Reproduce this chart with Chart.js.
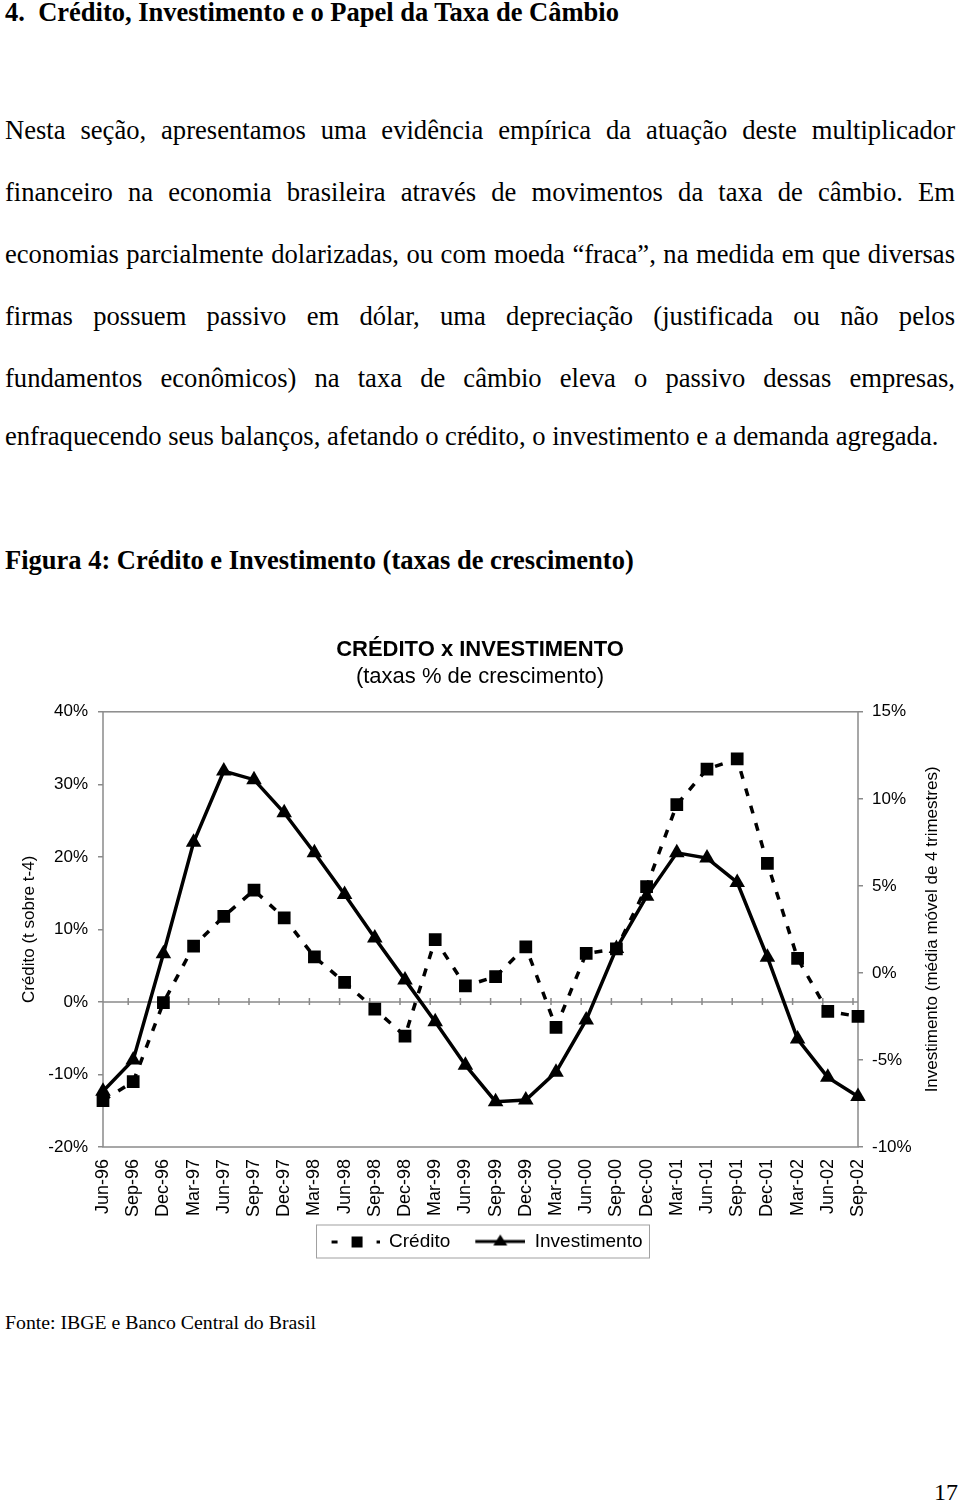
<!DOCTYPE html>
<html>
<head>
<meta charset="utf-8">
<title>Crédito x Investimento</title>
<script src="https://cdn.jsdelivr.net/npm/chart.js"></script>
<style>
    body { margin: 0; width: 960px; height: 1504px; position: relative; overflow: hidden; background: #fff; color: #000;
           font-family: "Liberation Serif", "Times New Roman", serif; }
    .txt { position: absolute; left: 5px; white-space: nowrap; }
    .titulo { top: -3px; font-size: 26.5px; font-weight: bold; line-height: 30px; }
    .par { position: absolute; left: 5px; width: 950px; font-size: 26.6px; line-height: 62px;
           text-align: justify; text-align-last: justify; white-space: nowrap; }
    .ultima { text-align-last: left; }
    .figura { top: 545px; font-size: 26.5px; font-weight: bold; line-height: 30px; }
    .fonte { top: 1309px; font-size: 19.8px; line-height: 26px; }
    .pagina { position: absolute; left: 934px; top: 1478px; font-size: 24px; line-height: 28px; }
    #grafico { position: absolute; left: 0; top: 625px; width: 960px; height: 650px; }
</style>
</head>
<body>

<div class="txt titulo">4.&nbsp; Crédito, Investimento e o Papel da Taxa de Câmbio</div>

<div class="par" style="top:99px">Nesta seção, apresentamos uma evidência empírica da atuação deste multiplicador</div>
<div class="par" style="top:161px">financeiro na economia brasileira através de movimentos da taxa de câmbio. Em</div>
<div class="par" style="top:223px">economias parcialmente dolarizadas, ou com moeda “fraca”, na medida em que diversas</div>
<div class="par" style="top:285px">firmas possuem passivo em dólar, uma depreciação (justificada ou não pelos</div>
<div class="par" style="top:347px">fundamentos econômicos) na taxa de câmbio eleva o passivo dessas empresas,</div>
<div class="par ultima" style="top:405px">enfraquecendo seus balanços, afetando o crédito, o investimento e a demanda agregada.</div>

<div class="txt figura">Figura 4: Crédito e Investimento (taxas de crescimento)</div>

<div id="grafico"><canvas id="cv"></canvas></div>

<div class="txt fonte">Fonte: IBGE e Banco Central do Brasil</div>
<div class="pagina">17</div>

<script>
    var meses = ['Jun-96', 'Sep-96', 'Dec-96', 'Mar-97', 'Jun-97', 'Sep-97', 'Dec-97', 'Mar-98', 'Jun-98',
                 'Sep-98', 'Dec-98', 'Mar-99', 'Jun-99', 'Sep-99', 'Dec-99', 'Mar-00', 'Jun-00', 'Sep-00',
                 'Dec-00', 'Mar-01', 'Jun-01', 'Sep-01', 'Dec-01', 'Mar-02', 'Jun-02', 'Sep-02'];

    // credito: eixo da esquerda (t sobre t-4), em %
    var credito = [-13.6, -11.0, -0.1, 7.7, 11.8, 15.4, 11.6, 6.2, 2.7, -1.0, -4.7, 8.6, 2.2,
                   3.5, 7.6, -3.5, 6.7, 7.3, 15.9, 27.2, 32.1, 33.5, 19.1, 6.0, -1.3, -2.0];

    // investimento: eixo da direita (media movel de 4 trimestres), em %
    var investimento = [-6.8, -5.0, 1.1, 7.5, 11.6, 11.1, 9.2, 6.9, 4.5, 2.0, -0.4, -2.8, -5.3,
                        -7.4, -7.3, -5.7, -2.7, 1.4, 4.4, 6.9, 6.6, 5.2, 0.9, -3.8, -6.0, -7.1];

    var limitesCredito = [-20, 40];
    var limitesInvest = [-10, 15];

    var cinza = '#8a8a8a';
    var arial = '"Liberation Sans", Arial, sans-serif';

    // amostras da legenda (12px em branco a esquerda para afastar os itens)
    function amostra(tipo) {
        var c = document.createElement('canvas');
        c.width = 62; c.height = 20;
        var g = c.getContext('2d');
        g.fillStyle = '#000'; g.strokeStyle = '#000'; g.lineWidth = 3;
        g.translate(12, 0);
        if (tipo === 'credito') {
            g.fillRect(2, 9, 6, 3);
            g.fillRect(22, 5, 11, 11);
            g.fillRect(47, 9, 3, 3);
        } else {
            g.beginPath(); g.moveTo(0, 10); g.lineTo(50, 10); g.stroke();
            g.beginPath(); g.moveTo(25, 3); g.lineTo(32, 14); g.lineTo(18, 14); g.closePath(); g.fill();
        }
        return c;
    }
    var amostras = [amostra('credito'), amostra('invest')];

    var moldura = {
        id: 'moldura',
        beforeDatasetsDraw: function (chart) {
            var ctx = chart.ctx, a = chart.chartArea, sx = chart.scales.x, sy = chart.scales.y;
            ctx.save();
            ctx.strokeStyle = cinza;
            ctx.lineWidth = 1.5;
            ctx.strokeRect(a.left, a.top, a.right - a.left, a.bottom - a.top);
            var y0 = sy.getPixelForValue(0);
            ctx.beginPath();
            ctx.moveTo(a.left, y0);
            ctx.lineTo(a.right, y0);
            for (var i = 1; i < meses.length; i++) {
                var x = sx.getPixelForValue(i) - 5;
                ctx.moveTo(x, y0 - 4);
                ctx.lineTo(x, y0 + 3);
            }
            ctx.stroke();
            ctx.restore();
        },
        afterDraw: function (chart) {
            var ctx = chart.ctx, a = chart.chartArea;
            ctx.save();
            // titulo do eixo direito, lido de baixo para cima
            ctx.translate(932, (a.top + a.bottom) / 2);
            ctx.rotate(-Math.PI / 2);
            ctx.font = '17px ' + arial;
            ctx.fillStyle = '#000';
            ctx.textAlign = 'center';
            ctx.textBaseline = 'middle';
            ctx.fillText('Investimento (média móvel de 4 trimestres)', 0, 0);
            ctx.restore();

            // caixa da legenda
            var boxes = chart.legend.legendHitBoxes;
            if (boxes && boxes.length) {
                var l = Math.min.apply(null, boxes.map(function (b) { return b.left; }));
                var r = Math.max.apply(null, boxes.map(function (b) { return b.left + b.width; }));
                var t = Math.min.apply(null, boxes.map(function (b) { return b.top; }));
                var h = Math.max.apply(null, boxes.map(function (b) { return b.height; }));
                ctx.save();
                ctx.strokeStyle = '#a0a0a0';
                ctx.lineWidth = 1;
                ctx.strokeRect(l - 1, t - 7, r - l + 8, h + 14);
                ctx.restore();
            }
        }
    };

    new Chart(document.getElementById('cv'), {
        type: 'line',
        data: {
            labels: meses,
            datasets: [{
                label: 'Crédito',
                data: credito,
                yAxisID: 'y',
                order: 1,
                borderColor: '#000',
                borderWidth: 3.5,
                borderDash: [8, 10],
                pointStyle: 'rect',
                pointRadius: 9,
                pointBackgroundColor: '#000',
                pointBorderWidth: 0,
                tension: 0
            }, {
                label: 'Investimento',
                data: investimento,
                yAxisID: 'y1',
                order: 0,
                borderColor: '#000',
                borderWidth: 3.5,
                pointStyle: 'triangle',
                pointRadius: 9,
                pointBackgroundColor: '#000',
                pointBorderWidth: 0,
                tension: 0
            }]
        },
        options: {
            responsive: true,
            maintainAspectRatio: false,
            animation: false,
            layout: { padding: { left: 0, right: 0, top: 0, bottom: 14 } },
            plugins: {
                title: {
                    display: true,
                    text: 'CRÉDITO x INVESTIMENTO',
                    color: '#000',
                    font: { family: arial, size: 22, weight: 'bold' },
                    padding: { top: 12, bottom: 0 }
                },
                subtitle: {
                    display: true,
                    text: '(taxas % de crescimento)',
                    color: '#000',
                    font: { family: arial, size: 22 },
                    padding: { top: 0, bottom: 22 }
                },
                legend: {
                    position: 'bottom',
                    labels: {
                        usePointStyle: true,
                        pointStyleWidth: 62,
                        padding: 13,
                        color: '#000',
                        font: { family: arial, size: 19 },
                        generateLabels: function (chart) {
                            return chart.data.datasets.map(function (ds, i) {
                                return { text: ds.label, pointStyle: amostras[i], datasetIndex: i,
                                         hidden: false, lineWidth: 0, fillStyle: '#000', strokeStyle: '#000', fontColor: '#000' };
                            });
                        }
                    }
                },
                tooltip: { enabled: false }
            },
            scales: {
                x: {
                    type: 'category',
                    offset: false,
                    grid: { display: false, drawTicks: false },
                    border: { display: false },
                    ticks: {
                        autoSkip: false,
                        minRotation: 90,
                        maxRotation: 90,
                        padding: 12,
                        color: '#000',
                        font: { family: arial, size: 18 }
                    },
                    afterFit: function (s) { s.height = 72; }
                },
                y: {
                    position: 'left',
                    min: limitesCredito[0],
                    max: limitesCredito[1],
                    grid: { drawOnChartArea: false, drawTicks: true, tickLength: 5, color: cinza, lineWidth: 1.5 },
                    border: { display: false },
                    ticks: {
                        stepSize: 10,
                        padding: 10,
                        color: '#000',
                        font: { family: arial, size: 17 },
                        callback: function (v) { return v + '%'; }
                    },
                    title: {
                        display: true,
                        text: 'Crédito (t sobre t-4)',
                        color: '#000',
                        font: { family: arial, size: 17 },
                        padding: { top: 19, bottom: 0 }
                    },
                    afterFit: function (s) { s.width = 103; }
                },
                y1: {
                    position: 'right',
                    min: limitesInvest[0],
                    max: limitesInvest[1],
                    grid: { drawOnChartArea: false, drawTicks: true, tickLength: 5, color: cinza, lineWidth: 1.5 },
                    border: { display: false },
                    ticks: {
                        stepSize: 5,
                        padding: 9,
                        color: '#000',
                        font: { family: arial, size: 17 },
                        callback: function (v) { return v + '%'; }
                    },
                    afterFit: function (s) { s.width = 102; }
                }
            }
        },
        plugins: [moldura]
    });
</script>
</body>
</html>
